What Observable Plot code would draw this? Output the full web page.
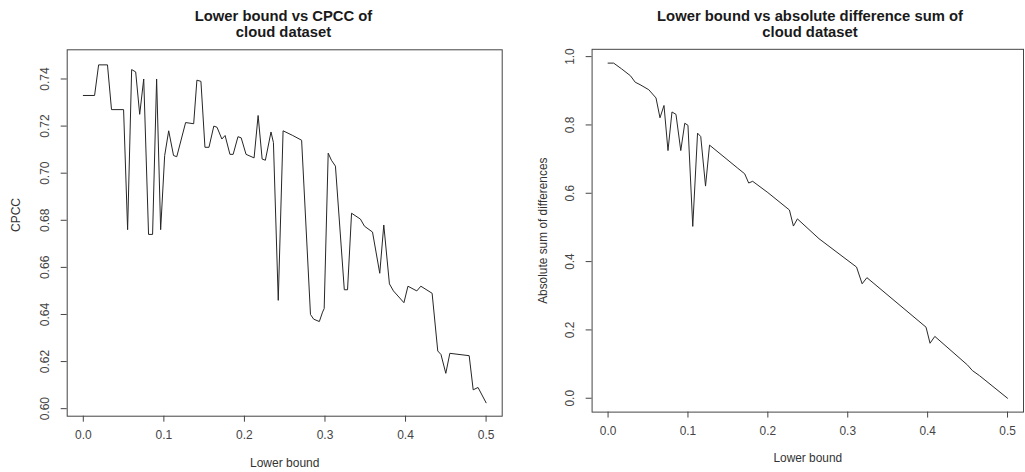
<!DOCTYPE html>
<html>
<head>
<meta charset="utf-8">
<script src="https://cdn.jsdelivr.net/npm/d3@7"></script>
<script src="https://cdn.jsdelivr.net/npm/@observablehq/plot@0.6"></script>
<style>
  html, body { margin: 0; padding: 0; background: #fff; overflow: hidden; }
  #page { position: relative; width: 1025px; height: 472px; overflow: hidden;
          font-family: "Liberation Sans", Arial, sans-serif; }
  .panel { position: absolute; top: 0; }
  .title { position: absolute; top: 7.6px; font-weight: bold; font-size: 14.8px;
           line-height: 16px; text-align: center; color: #1a1a1a; white-space: nowrap;
           transform: translateX(-50%); }
</style>
</head>
<body>
<div id="page"></div>
<script>
// Lower bound vs CPCC
const cpccBound = [0, 0.014, 0.019, 0.030, 0.035, 0.050, 0.055, 0.060, 0.065, 0.070,
  0.075, 0.081, 0.086, 0.091, 0.096, 0.101, 0.106, 0.112, 0.116, 0.127,
  0.137, 0.141, 0.146, 0.151, 0.156, 0.162, 0.166, 0.172, 0.176, 0.182,
  0.186, 0.192, 0.196, 0.202, 0.212, 0.217, 0.222, 0.226, 0.233, 0.236,
  0.242, 0.248, 0.260, 0.271, 0.282, 0.286, 0.293, 0.297, 0.299, 0.304,
  0.308, 0.313, 0.324, 0.328, 0.333, 0.344, 0.349, 0.359, 0.368, 0.373,
  0.380, 0.385, 0.398, 0.403, 0.414, 0.419, 0.433, 0.440, 0.444, 0.450,
  0.455, 0.479, 0.484, 0.490, 0.500];
const cpccValue = [0.733, 0.733, 0.746, 0.746, 0.727, 0.727, 0.676, 0.744, 0.743, 0.725,
  0.740, 0.674, 0.674, 0.740, 0.676, 0.7075, 0.718, 0.7075, 0.707, 0.7215,
  0.721, 0.7395, 0.739, 0.711, 0.711, 0.720, 0.7195, 0.7145, 0.716, 0.708,
  0.708, 0.7155, 0.715, 0.708, 0.7065, 0.7245, 0.706, 0.7055, 0.7175, 0.713,
  0.646, 0.718, 0.716, 0.714, 0.640, 0.638, 0.637, 0.641, 0.6425, 0.7085,
  0.7055, 0.703, 0.6505, 0.6505, 0.683, 0.6805, 0.6775, 0.675, 0.6575, 0.678,
  0.653, 0.650, 0.645, 0.652, 0.650, 0.652, 0.649, 0.6245, 0.623, 0.615,
  0.6235, 0.6225, 0.608, 0.609, 0.6025];

// Lower bound vs absolute sum of differences
const diffBound = [0, 0.007, 0.017, 0.028, 0.034, 0.040, 0.051, 0.060, 0.065, 0.070,
  0.075, 0.080, 0.085, 0.091, 0.096, 0.100, 0.106, 0.112, 0.116, 0.122,
  0.127, 0.162, 0.171, 0.176, 0.181, 0.200, 0.227, 0.232, 0.237, 0.264,
  0.311, 0.318, 0.324, 0.398, 0.403, 0.409, 0.450, 0.456, 0.465, 0.500];
const diffValue = [0.981, 0.981, 0.964, 0.944, 0.925, 0.918, 0.903, 0.879, 0.821, 0.857,
  0.725, 0.838, 0.831, 0.725, 0.805, 0.799, 0.503, 0.776, 0.766, 0.621,
  0.741, 0.674, 0.657, 0.630, 0.635, 0.602, 0.551, 0.504, 0.525, 0.467,
  0.384, 0.335, 0.353, 0.208, 0.161, 0.181, 0.097, 0.081, 0.066, 0.0];

const boundTicks = [0, 0.1, 0.2, 0.3, 0.4, 0.5];
const cpccTicks = [0.60, 0.62, 0.64, 0.66, 0.68, 0.70, 0.72, 0.74];
const diffTicks = [0, 0.2, 0.4, 0.6, 0.8, 1.0];

const page = document.getElementById("page");
const ink = "#444";

function panel({bound, value, left, width, marginLeft, marginRight, yDomain, yTicks,
                yDigits, yLabel, yLabelX, yLabelShift, title, titleX}) {
  const rows = bound.map((b, i) => ({bound: b, value: value[i]}));
  const chart = Plot.plot({
    width, height: 472,
    marginLeft, marginRight, marginTop: 49.3, marginBottom: 56.3,
    style: {fontFamily: "Liberation Sans, Arial, sans-serif", fontSize: "12px",
            background: "transparent", overflow: "visible"},
    x: {domain: [-0.02, 0.52]},
    y: {domain: yDomain},
    marks: [
      Plot.axisX({ticks: boundTicks, tickSize: 6, tickFormat: () => "", stroke: ink, label: null}),
      Plot.axisY({ticks: yTicks, tickSize: 6, tickFormat: () => "", stroke: ink, label: null}),
      Plot.text(boundTicks, {x: d => d, frameAnchor: "bottom", dy: 19.3, lineAnchor: "middle",
        text: d => d.toFixed(1), fontSize: 12, fill: ink}),
      Plot.text(yTicks, {y: d => d, frameAnchor: "left", dx: -21.8, rotate: -90,
        lineAnchor: "middle", textAnchor: "middle", text: d => d.toFixed(yDigits),
        fontSize: 12, fill: ink}),
      Plot.text(["Lower bound"], {frameAnchor: "bottom", dy: 47, lineAnchor: "middle",
        fontSize: 12, fill: "#333"}),
      Plot.text([yLabel], {frameAnchor: "left", dx: yLabelX - marginLeft,
        dy: yLabelShift, rotate: -90, lineAnchor: "middle", textAnchor: "middle",
        fontSize: 12, fill: "#333"}),
      Plot.frame({stroke: ink}),
      Plot.line(rows, {x: "bound", y: "value", stroke: "#262626", strokeWidth: 1})
    ]
  });
  const holder = document.createElement("div");
  holder.className = "panel";
  holder.style.left = left + "px";
  holder.appendChild(chart);
  page.appendChild(holder);

  const t = document.createElement("div");
  t.className = "title";
  t.style.left = titleX + "px";
  t.innerHTML = title;
  page.appendChild(t);
}

panel({
  bound: cpccBound, value: cpccValue, left: 0, width: 520,
  marginLeft: 66.7, marginRight: 18.3,
  yDomain: [0.5968, 0.7524], yTicks: cpccTicks, yDigits: 2,
  yLabel: "CPCC", yLabelX: 16, yLabelShift: -18,
  title: "Lower bound vs CPCC of<br>cloud dataset", titleX: 283.5
});

panel({
  bound: diffBound, value: diffValue, left: 520, width: 510,
  marginLeft: 72.3, marginRight: 2,
  yDomain: [-0.0406, 1.0214], yTicks: diffTicks, yDigits: 1,
  yLabel: "Absolute sum of differences", yLabelX: 23, yLabelShift: 0,
  title: "Lower bound vs absolute difference sum of<br>cloud dataset", titleX: 810
});
</script>
</body>
</html>
